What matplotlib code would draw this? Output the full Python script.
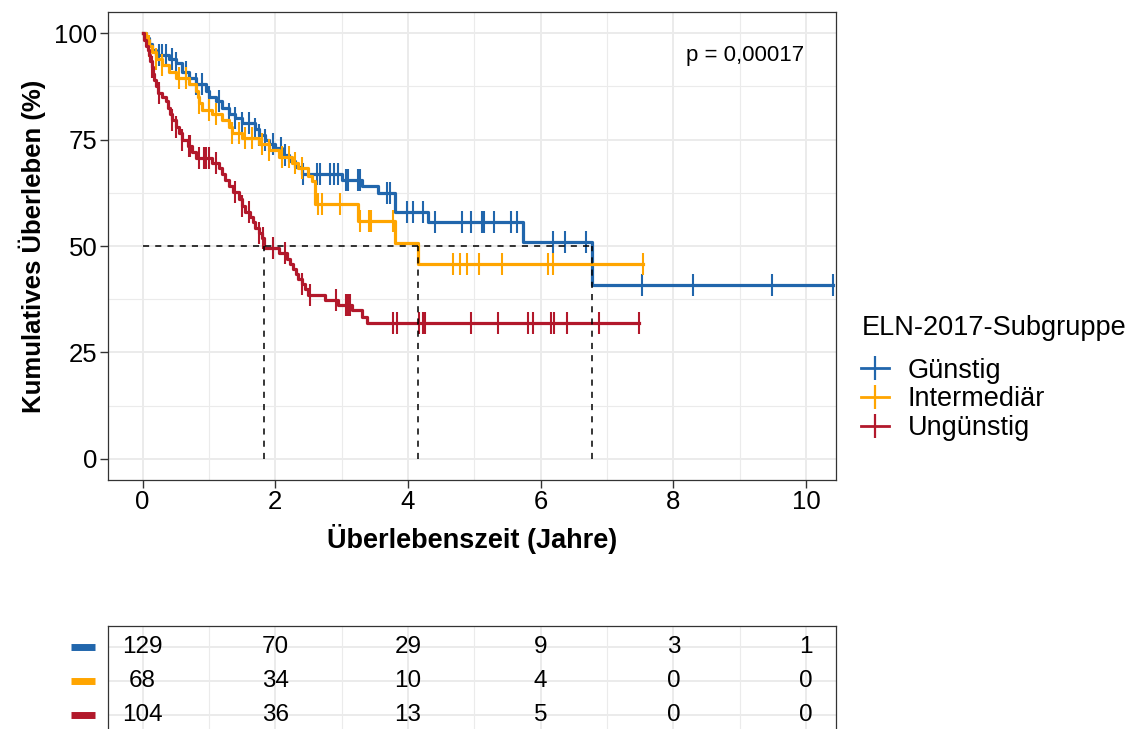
import numpy as np
import matplotlib
matplotlib.use('Agg')
import matplotlib.pyplot as plt
from matplotlib.lines import Line2D

plt.rcParams['font.family'] = ['Liberation Sans', 'DejaVu Sans']

groups = ['Günstig', 'Intermediär', 'Ungünstig']
colors = ['#2166AC', '#FFA500', '#B2182B']

# KM step curves (event time in years, survival in % after the step)
blue_t = [0, 0.05, 0.1, 0.15, 0.2, 0.4, 0.5, 0.6, 0.7, 0.8, 0.95, 1.0, 1.1, 1.2, 1.3, 1.4,
          1.5, 1.7, 1.75, 1.85, 1.9, 2.0, 2.1, 2.2, 2.3, 2.4, 3.0, 3.3, 3.55, 3.8, 4.3, 5.74, 6.77]
blue_s = [100, 99, 97.5, 96, 95, 94, 93, 91, 89.5, 88, 86.5, 85, 84, 82.5, 81, 80,
          79, 77.5, 76, 75, 74, 73, 71.5, 70, 68.5, 67, 65.5, 64, 62.5, 58, 55.7, 51, 40.8]
blue_end = 10.4
blue_cens = [0.25, 0.3, 0.35, 0.45, 0.5, 0.65, 0.8, 0.9, 1.0, 1.15, 1.3, 1.4, 1.5, 1.6, 1.7,
             1.75, 1.85, 1.96, 2.08, 2.15, 2.42, 2.63, 2.68, 2.83, 2.88, 2.94, 3.06, 3.1, 3.24,
             3.27, 3.69, 3.73, 3.99, 4.07, 4.23, 4.41, 4.82, 4.95, 5.12, 5.14, 5.3, 5.56, 5.65,
             6.19, 6.36, 6.69, 7.53, 8.3, 9.49, 10.4]

orange_t = [0, 0.05, 0.1, 0.15, 0.2, 0.3, 0.4, 0.5, 0.7, 0.8, 0.83, 0.85, 0.9, 1.05, 1.2, 1.3,
            1.35, 1.5, 1.75, 1.9, 2.05, 2.25, 2.35, 2.5, 2.55, 2.6, 3.25, 3.8, 4.15]
orange_s = [100, 98.5, 97, 95.5, 94, 92.5, 91, 89.5, 88, 86.5, 85, 83.5, 82, 81, 79.5, 78,
            76.5, 75.5, 74, 72.5, 71, 69.5, 68.3, 66.5, 65.2, 59.8, 55.8, 50.6, 45.8]
orange_end = 7.54
orange_cens = [0.1, 0.2, 0.3, 0.55, 0.65, 0.85, 1.0, 1.1, 1.35, 1.45, 1.55, 1.65, 1.8, 1.9,
               2.1, 2.2, 2.3, 2.4, 2.65, 2.71, 2.98, 3.27, 3.42, 3.45, 3.78, 4.68, 4.79, 4.89,
               5.07, 5.42, 6.11, 6.19, 7.54]

red_t = [0, 0.03, 0.06, 0.08, 0.1, 0.12, 0.14, 0.16, 0.18, 0.2, 0.24, 0.3, 0.35, 0.38, 0.42,
         0.45, 0.5, 0.55, 0.6, 0.68, 0.75, 0.8, 1.05, 1.15, 1.2, 1.25, 1.3, 1.37, 1.45, 1.5,
         1.55, 1.62, 1.66, 1.7, 1.75, 1.8, 1.83, 2.05, 2.18, 2.22, 2.27, 2.32, 2.35, 2.4, 2.45,
         2.5, 2.75, 2.95, 3.15, 3.3, 3.38]
red_s = [100, 98.5, 97, 96, 95, 93.5, 92, 90.5, 89, 87.5, 86, 85, 84, 82.5, 81,
         79.5, 78, 76.5, 75, 73.5, 72, 70.8, 69.6, 68.4, 67, 65.5, 64, 62.7, 61, 59.5,
         58, 56.8, 55.6, 54.2, 53, 51.8, 49.5, 48.3, 47, 45.8, 44.6, 43.4, 42.2, 41, 39.8,
         38.6, 37.3, 36.1, 34.9, 33.2, 31.8]
red_end = 7.48
red_cens = [0.15, 0.25, 0.45, 0.5, 0.6, 0.7, 0.72, 0.85, 0.92, 0.95, 1.0, 1.1, 1.4, 1.5, 1.6,
            1.76, 1.81, 1.97, 2.15, 2.41, 2.52, 2.91, 3.06, 3.1, 3.13, 3.77, 3.84, 4.16, 4.22,
            4.25, 4.95, 5.36, 5.81, 5.89, 6.16, 6.2, 6.4, 6.88, 7.48]

risk_times = [0, 2, 4, 6, 8, 10]
risk_blue = [129, 70, 29, 9, 3, 1]
risk_orange = [68, 34, 10, 4, 0, 0]
risk_red = [104, 36, 13, 5, 0, 0]

p_text = 'p = 0,00017'

curves = [(blue_t, blue_s, blue_end, blue_cens),
          (orange_t, orange_s, orange_end, orange_cens),
          (red_t, red_s, red_end, red_cens)]
risks = [risk_blue, risk_orange, risk_red]

fig = plt.figure(figsize=(11.4, 7.29), dpi=100)
ax = fig.add_axes([108/1140, 1-480/729, (836-108)/1140, (480-12)/729])
grid_c = '#EBEBEB'

def style_panel(a):
    a.set_facecolor('white')
    for sp in a.spines.values():
        sp.set_color('#333333')
        sp.set_linewidth(0.9)
    a.grid(True, which='major', color=grid_c, lw=1.4, zorder=0)
    a.grid(True, which='minor', color=grid_c, lw=0.8, zorder=0)
    a.set_axisbelow(True)

style_panel(ax)

medians = []
for (t, s, end, cens), col in zip(curves, colors):
    t = np.array(t)
    s = np.array(s)
    tx = np.append(t, end)
    sx = np.append(s, s[-1])
    ax.step(tx, sx, where='post', color=col, lw=2.3, zorder=3)
    cens = np.array(cens)
    idx = np.searchsorted(t, cens, side='right') - 1
    ax.plot(cens, s[idx], ls='none', marker='|', markersize=16, mew=1.5, color=col, zorder=3)
    below = np.where(s <= 50)[0]
    medians.append(t[below[0]])

ax.plot([0, max(medians)], [50, 50], ls=(0, (4, 4)), color='black', lw=1.1, zorder=4)
for m in medians:
    ax.plot([m, m], [0, 50], ls=(0, (4, 4)), color='black', lw=1.1, zorder=4)

ax.text(9.08, 94.8, p_text, ha='center', va='center', fontsize=16)

ax.set_xlim(-0.52, 10.45)
ax.set_ylim(-5, 105)
ax.set_xticks([0, 2, 4, 6, 8, 10])
ax.set_xticks([1, 3, 5, 7, 9], minor=True)
ax.set_yticks([0, 25, 50, 75, 100])
ax.set_yticks([12.5, 37.5, 62.5, 87.5], minor=True)
ax.tick_params(which='major', labelsize=18.5, length=5.5, width=1, pad=2,
               color='#333333', labelcolor='black')
ax.tick_params(which='minor', length=0)
ax.set_xlabel('Überlebenszeit (Jahre)', fontsize=19.5, fontweight='bold', labelpad=7)
ax.set_ylabel('Kumulatives Überleben (%)', fontsize=18.5, fontweight='bold', labelpad=6)

handles = [Line2D([], [], color=c, lw=2, marker='|', markersize=17, mew=1.6) for c in colors]
leg = fig.legend(handles, groups, title='ELN-2017-Subgruppe', loc='center left',
                 bbox_to_anchor=(856/1140, 1-378/729), frameon=False, fontsize=19.5,
                 title_fontsize=19.5, handlelength=1.0, handletextpad=0.7, labelspacing=0.1,
                 borderaxespad=0, borderpad=0.2)
leg._legend_box.align = 'left'
leg._legend_box.sep = 12

# risk table
tab = fig.add_axes([108/1140, 1-736/729, (836-108)/1140, (736-626)/729])
style_panel(tab)
tab.spines['bottom'].set_visible(False)
tab.set_xlim(-0.52, 10.45)
tab.set_ylim(0.38, 3.62)
tab.set_xticks([0, 2, 4, 6, 8, 10])
tab.set_xticks([1, 3, 5, 7, 9], minor=True)
tab.set_yticks([1, 2, 3])
tab.tick_params(which='both', length=0, labelleft=False, labelbottom=False)
tab.grid(True, which='major', axis='y', color=grid_c, lw=1.4)
for i, (r, col) in enumerate(zip(risks, colors)):
    yy = 3 - i
    for x, v in zip(risk_times, r):
        tab.text(x, yy, str(v), ha='center', va='center', fontsize=17.5)
    tab.plot([-1.08, -0.72], [yy, yy], color=col, lw=5, solid_capstyle='butt', clip_on=False)

fig.savefig('out.png', dpi=100)
